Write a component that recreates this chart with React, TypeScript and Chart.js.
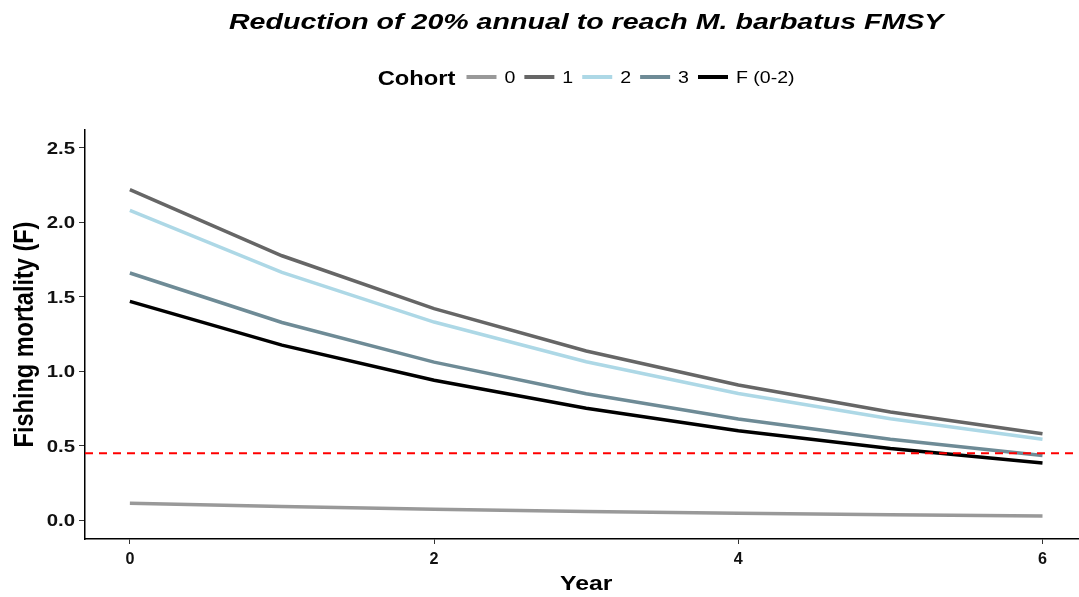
import React, { useEffect, useRef } from "react";
import { Chart, registerables } from "chart.js";

Chart.register(...registerables);

// Fishing mortality by cohort under a 20% annual reduction
const years = [0, 1, 2, 3, 4, 5, 6];
const cohort0 = [0.115, 0.093, 0.074, 0.059, 0.047, 0.038, 0.03];
const cohort1 = [2.22, 1.776, 1.421, 1.137, 0.909, 0.727, 0.582];
const cohort2 = [2.08, 1.664, 1.331, 1.065, 0.852, 0.682, 0.545];
const cohort3 = [1.66, 1.328, 1.062, 0.85, 0.68, 0.544, 0.435];
const fMean = [1.47, 1.176, 0.941, 0.753, 0.602, 0.482, 0.385];
const FMSY = 0.45;

const seriesLabels = ["0", "1", "2", "3", "F (0-2)"];
const seriesColors = ["#999999", "#666666", "#ADD8E6", "#6E8B96", "#000000"];
const seriesValues = [cohort0, cohort1, cohort2, cohort3, fMean];
const xTicks = [0, 2, 4, 6];
const yTicks = [0, 0.5, 1, 1.5, 2, 2.5];
const xTickLabels = ["0", "2", "4", "6"];
const yTickLabels = ["0.0", "0.5", "1.0", "1.5", "2.0", "2.5"];

const FONT = "'Liberation Sans', Arial, Helvetica, sans-serif";
const TITLE = "Reduction of 20% annual to reach M. barbatus FMSY";
const LEGEND_TITLE = "Cohort";
const X_TITLE = "Year";
const Y_TITLE = "Fishing mortality (F)";

// Horizontally widened text, drawn with the given alignment
function wideText(
  ctx: CanvasRenderingContext2D,
  text: string,
  x: number,
  y: number,
  font: string,
  sx: number,
  align: CanvasTextAlign,
  color = "#000"
) {
  ctx.save();
  ctx.font = font;
  ctx.fillStyle = color;
  ctx.textAlign = align;
  ctx.textBaseline = "alphabetic";
  ctx.translate(x, y);
  ctx.scale(sx, 1);
  ctx.fillText(text, 0, 0);
  ctx.restore();
}

// Reference line at FMSY, axis text, title and a horizontal legend
const overlayPlugin = {
  id: "overlay",
  afterDatasetsDraw(chart: any) {
    const { ctx, chartArea, scales } = chart;
    const y = scales.y.getPixelForValue(FMSY);
    ctx.save();
    ctx.beginPath();
    ctx.rect(chartArea.left, chartArea.top, chartArea.right - chartArea.left, chartArea.bottom - chartArea.top);
    ctx.clip();
    ctx.strokeStyle = "#FF0000";
    ctx.lineWidth = 2;
    ctx.setLineDash([8, 6]);
    ctx.beginPath();
    ctx.moveTo(chartArea.left, y);
    ctx.lineTo(chartArea.right, y);
    ctx.stroke();
    ctx.restore();
  },
  afterDraw(chart: any) {
    const { ctx, scales, chartArea } = chart;
    // panel spans -0.3..6.3 on x; part of it lies past the right canvas edge
    const cx = (scales.x.getPixelForValue(-0.3) + scales.x.getPixelForValue(6.3)) / 2;
    const cy = (chartArea.top + chartArea.bottom) / 2;

    // tick labels
    xTicks.forEach((v, i) => {
      wideText(ctx, xTickLabels[i], scales.x.getPixelForValue(v), chartArea.bottom + 25, `bold 17px ${FONT}`, 0.95, "center", "#111");
    });
    yTicks.forEach((v, i) => {
      wideText(ctx, yTickLabels[i], 75, scales.y.getPixelForValue(v) + 6, `bold 17px ${FONT}`, 1.2, "right", "#111");
    });

    // axis titles
    wideText(ctx, X_TITLE, cx, 590, `bold 21px ${FONT}`, 1.18, "center");
    ctx.save();
    ctx.font = `bold 23.5px ${FONT}`;
    ctx.fillStyle = "#000";
    ctx.textAlign = "center";
    ctx.textBaseline = "alphabetic";
    ctx.translate(33, cy);
    ctx.scale(1.15, 1);
    ctx.rotate(-Math.PI / 2);
    ctx.fillText(Y_TITLE, 0, 0);
    ctx.restore();

    // title
    wideText(ctx, TITLE, cx, 28.5, `italic bold 22.5px ${FONT}`, 1.27, "center");

    // legend
    const legendY = 77;
    const segW = 30;
    const segGap = 8;
    const itemGap = 9;
    const titleSx = 1.13;
    const labelSx = 1.15;
    const titleFont = `bold 21px ${FONT}`;
    const labelFont = `17px ${FONT}`;
    ctx.save();
    ctx.font = titleFont;
    const titleW = ctx.measureText(LEGEND_TITLE).width * titleSx;
    ctx.font = labelFont;
    const widths = seriesLabels.map((l) => ctx.measureText(l).width * labelSx);
    ctx.restore();
    let total = titleW + 11;
    widths.forEach((w, i) => {
      total += segW + segGap + w + (i < widths.length - 1 ? itemGap : 0);
    });
    let x = cx - total / 2;
    wideText(ctx, LEGEND_TITLE, x, legendY + 7.5, titleFont, titleSx, "left");
    x += titleW + 11;
    seriesLabels.forEach((l, i) => {
      ctx.save();
      ctx.strokeStyle = seriesColors[i];
      ctx.lineWidth = 4;
      ctx.beginPath();
      ctx.moveTo(x, legendY);
      ctx.lineTo(x + segW, legendY);
      ctx.stroke();
      ctx.restore();
      x += segW + segGap;
      wideText(ctx, l, x, legendY + 6, labelFont, labelSx, "left");
      x += widths[i] + itemGap;
    });
  },
};

export default function App() {
  const ref = useRef<HTMLCanvasElement | null>(null);

  useEffect(() => {
    if (!ref.current) return;
    const chart = new Chart(ref.current, {
      type: "line",
      data: {
        datasets: seriesValues.map((vals, i) => ({
          label: seriesLabels[i],
          data: years.map((yr, j) => ({ x: yr, y: vals[j] })),
          borderColor: seriesColors[i],
          backgroundColor: seriesColors[i],
          borderWidth: 3.5,
          pointRadius: 0,
          tension: 0,
          order: seriesLabels.length - i,
        })),
      },
      options: {
        animation: false,
        responsive: false,
        maintainAspectRatio: false,
        layout: { padding: { top: 130, right: 0, left: 0, bottom: 0 } },
        plugins: {
          legend: { display: false },
          title: { display: false },
          tooltip: { enabled: false },
        },
        scales: {
          x: {
            type: "linear",
            min: -0.295,
            max: 6.24,
            afterBuildTicks: (s: any) => {
              s.ticks = xTicks.map((v) => ({ value: v }));
            },
            afterFit: (s: any) => {
              s.height = 58;
            },
            grid: { drawOnChartArea: false, drawTicks: true, tickLength: 5, color: "#333", lineWidth: 1 },
            border: { display: true, color: "#000", width: 1.5 },
            ticks: { display: false },
          },
          y: {
            type: "linear",
            min: -0.125,
            max: 2.62,
            afterBuildTicks: (s: any) => {
              s.ticks = yTicks.map((v) => ({ value: v }));
            },
            afterFit: (s: any) => {
              s.width = 85;
            },
            grid: { drawOnChartArea: false, drawTicks: true, tickLength: 6, color: "#333", lineWidth: 1 },
            border: { display: true, color: "#000", width: 1.5 },
            ticks: { display: false },
          },
        },
      },
      plugins: [overlayPlugin],
    });
    return () => chart.destroy();
  }, []);

  return (
    <div style={{ position: "absolute", left: 0, top: 0, width: 1079, height: 597, background: "#fff" }}>
      <canvas ref={ref} width={1079} height={597} style={{ width: 1079, height: 597, display: "block" }} />
    </div>
  );
}
